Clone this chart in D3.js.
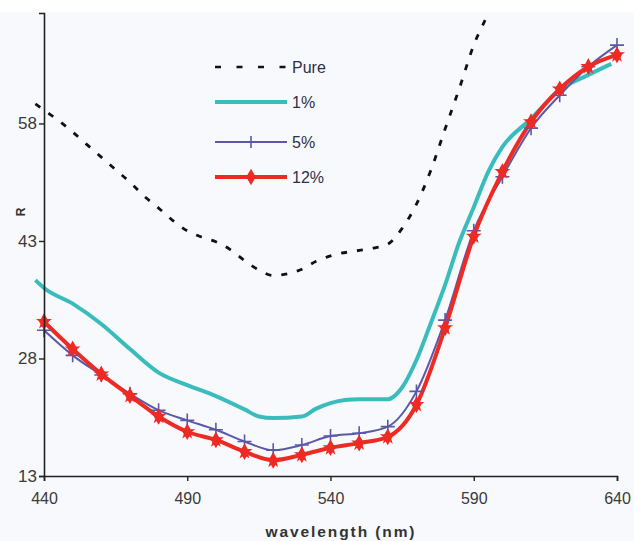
<!DOCTYPE html>
<html><head><meta charset="utf-8">
<script src="https://cdn.jsdelivr.net/npm/d3@7"></script>
<style>html,body{margin:0;padding:0;background:#fff;}svg{display:block;font-family:Arial,"Liberation Sans",sans-serif;}</style>
</head><body>
<svg id="c" width="634" height="541"></svg>
<script>
// ---- data ----
const wavelengths = [440,450,460,470,480,490,500,510,520,530,540,550,560,570,580,590,600,610,620,630,640];
const series12 = [32.7,29.2,26.0,23.25,20.6,18.65,17.6,16.1,15.0,15.7,16.6,17.2,18.0,22.1,31.9,43.6,51.85,58.2,62.4,65.25,66.75];
const series5  = [31.6,28.4,25.9,23.5,21.4,20.1,18.9,17.4,16.3,16.95,18.1,18.45,19.3,23.8,32.9,44.3,51.2,57.4,61.6,65.25,68.0];
const series1X = [437,440,450,460,470,480,490,500,510,515,520,530,535,540,545,550,560,565,570,575,580,585,590,595,600,610,620,630,638];
const series1Y = [38.0,37.0,35.0,32.4,29.2,26.2,24.6,23.2,21.5,20.6,20.4,20.6,21.6,22.3,22.7,22.8,22.8,24.3,27.8,32.5,37.4,42.9,47.3,51.8,55.0,58.6,62.3,64.2,65.6];
const pureX = [437,440,445,450,455,460,465,470,475,480,485,490,495,500,505,510,515,520,525,530,535,540,550,555,560,565,570,575,580,585,590,595,598];
const pureY = [60.5,59.7,58.4,56.9,55.3,53.7,52.1,50.5,48.7,47.2,45.6,44.3,43.5,42.9,41.9,40.5,39.3,38.6,38.8,39.4,40.4,41.1,41.8,42.1,42.6,44.6,47.7,52.0,57.3,62.5,68.0,72.0,74.5];
const yTicks = [13,28,43,58];
const xTicks = [440,490,540,590,640];
const legendLabels = ["Pure","1%","5%","12%"];
const xTitle = "wavelength (nm)";
const yTitle = "R";

// ---- drawing ----
const svg = d3.select("#c");
const x = d3.scaleLinear().domain([440,640]).range([44,617]);
const y = d3.scaleLinear().domain([13,72.1]).range([476,13]);
const C = {pure:"#111", c1:"#3bbcbc", c5:"#5a59a8", c12:"#ee2a24"};

svg.append("rect").attr("x",0).attr("y",12).attr("width",634).attr("height",529).attr("fill","#f8f9fc");

svg.append("defs").append("clipPath").attr("id","clip")
  .append("rect").attr("x",0).attr("y",13).attr("width",634).attr("height",528);

const line = d3.line().x(d=>x(d[0])).y(d=>y(d[1])).curve(d3.curveMonotoneX);
const g = svg.append("g").attr("clip-path","url(#clip)");

// axes
const yAxis = svg.append("g").attr("transform","translate(44,0)")
  .call(d3.axisLeft(y).tickValues(yTicks).tickSize(5).tickPadding(5).tickFormat(d3.format("d")));
const xAxis = svg.append("g").attr("transform","translate(0,476)")
  .call(d3.axisBottom(x).tickValues(xTicks).tickSize(5).tickPadding(12).tickFormat(d3.format("d")));
[yAxis,xAxis].forEach(a=>{
  a.select(".domain").attr("stroke","#222").attr("stroke-width",1.6);
  a.selectAll(".tick line").attr("stroke","#222").attr("stroke-width",1.4);
  a.selectAll(".tick text").attr("fill","#3a3a3a").attr("font-size",16);
});
yAxis.selectAll(".tick text").attr("x",-7).attr("font-size",17);

// pure
g.append("path").datum(pureX.map((v,i)=>[v,pureY[i]])).attr("d",line)
  .attr("fill","none").attr("stroke",C.pure).attr("stroke-width",2.8).attr("stroke-dasharray","6,10");
// 1%
g.append("path").datum(series1X.map((v,i)=>[v,series1Y[i]])).attr("d",line)
  .attr("fill","none").attr("stroke",C.c1).attr("stroke-width",4);
// 5%
const d5 = wavelengths.map((v,i)=>[v,series5[i]]);
g.append("path").datum(d5).attr("d",line).attr("fill","none").attr("stroke",C.c5).attr("stroke-width",2);
// 12%
const d12 = wavelengths.map((v,i)=>[v,series12[i]]);
g.append("path").datum(d12).attr("d",line).attr("fill","none").attr("stroke",C.c12).attr("stroke-width",4);

// markers 5%: plus
const plus = (sel, cx, cy, w, h) => {
  sel.append("path").attr("d",`M${cx-w},${cy}H${cx+w}M${cx},${cy-h}V${cy+h}`)
    .attr("stroke",C.c5).attr("stroke-width",1.6).attr("fill","none");
};
d5.forEach(d=>plus(g, x(d[0]), y(d[1]), 7, 7));
// markers 12%: diamond/star
const diamond = d3.symbol().type(d3.symbolDiamond).size(80);
const star = d3.symbol().type(d3.symbolStar).size(80);
d12.forEach(d=>{
  g.append("path").attr("d",diamond()).attr("transform",`translate(${x(d[0])},${y(d[1])})`).attr("fill",C.c12);
  g.append("path").attr("d",star()).attr("transform",`translate(${x(d[0])},${y(d[1])})`).attr("fill",C.c12);
});

// titles
svg.append("text").attr("x",341).attr("y",537).attr("text-anchor","middle")
  .attr("font-weight","bold").attr("font-size",15.5).attr("letter-spacing",1.9).attr("fill","#333").text(xTitle);
svg.append("text").attr("transform","translate(25,212) rotate(-90)").attr("text-anchor","middle")
  .attr("font-weight","bold").attr("font-size",12).attr("fill","#333").text(yTitle);

// legend
const legY = [67,102,142,177];
const lx0 = 215, lx1 = 287, lxm = 251;
const leg = svg.append("g");
legendLabels.forEach((lab,i)=>{
  const yy = legY[i];
  if(i===0){
    leg.append("line").attr("x1",lx0).attr("x2",lx1).attr("y1",yy).attr("y2",yy)
      .attr("stroke",C.pure).attr("stroke-width",2.4).attr("stroke-dasharray","6,15.5");
  } else if(i===1){
    leg.append("line").attr("x1",lx0).attr("x2",lx1).attr("y1",yy).attr("y2",yy).attr("stroke",C.c1).attr("stroke-width",4);
  } else if(i===2){
    leg.append("line").attr("x1",lx0).attr("x2",lx1).attr("y1",yy).attr("y2",yy).attr("stroke",C.c5).attr("stroke-width",2);
    leg.append("path").attr("d",`M${lxm},${yy-6}V${yy+6}`).attr("stroke",C.c5).attr("stroke-width",1.6);
  } else {
    leg.append("line").attr("x1",lx0).attr("x2",lx1).attr("y1",yy).attr("y2",yy).attr("stroke",C.c12).attr("stroke-width",4);
    leg.append("path").attr("d",diamond()).attr("transform",`translate(${lxm},${yy})`).attr("fill",C.c12);
  }
  leg.append("text").attr("x",lx1+5).attr("y",yy).attr("dy","0.36em").attr("font-size",16)
    .attr("fill","#2f2f48").text(lab);
});
</script>
</body></html>
